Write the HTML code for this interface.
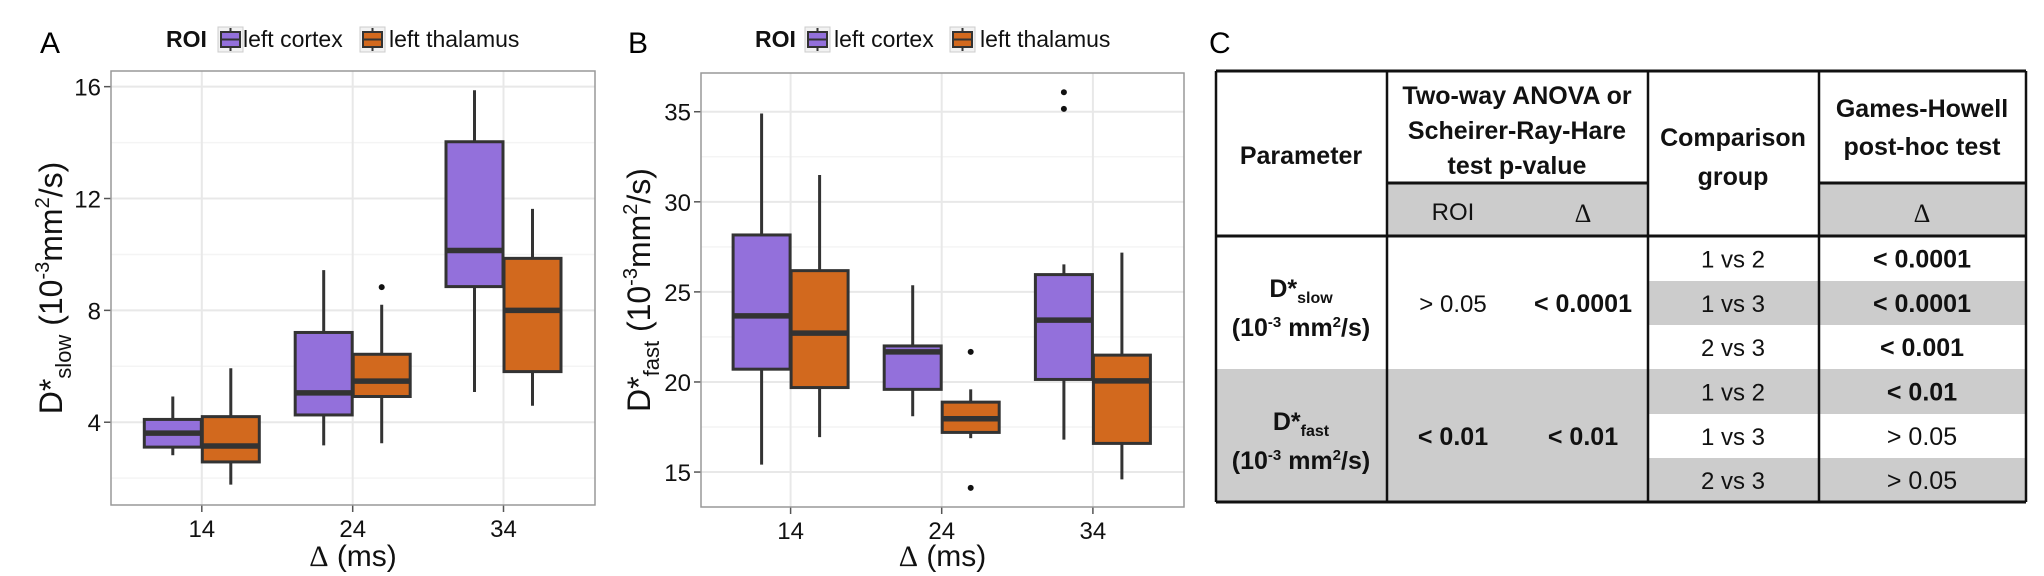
<!DOCTYPE html>
<html><head><meta charset="utf-8"><style>
body{margin:0;background:#fff;}
svg{display:block;font-family:"Liberation Sans",sans-serif;}
</style></head><body>
<svg id="fig" width="2044" height="576" viewBox="0 0 2044 576">
<text x="40" y="53" font-size="30">A</text>
<text x="628" y="53" font-size="30">B</text>
<text x="1209" y="53" font-size="30">C</text>
<g id="pa"></g>
<g id="pb"></g>
<g id="tbl"></g>
</svg>
<script>
const categories = [14, 24, 34];
const groups = ["left cortex", "left thalamus"];
// [lower, Q1, median, Q3, upper] per category
const slowCortex = [[2.82,3.11,3.61,4.10,4.92],[3.17,4.26,5.05,7.21,9.44],[5.08,8.85,10.14,14.03,15.87]];
const slowThal = [[1.77,2.58,3.15,4.20,5.93],[3.25,4.92,5.47,6.43,8.20],[4.59,5.81,8.00,9.86,11.63]];
const slowOutCortex = [[],[],[]];
const slowOutThal = [[],[8.83],[]];
const fastCortex = [[15.41,20.71,23.67,28.16,34.9],[18.1,19.59,21.67,22.0,25.37],[16.8,20.14,23.43,25.96,26.53]];
const fastThal = [[16.94,19.69,22.71,26.18,31.49],[16.88,17.2,17.96,18.88,19.59],[14.59,16.59,20.06,21.49,27.18]];
const fastOutCortex = [[],[],[36.08,35.16]];
const fastOutThal = [[],[21.67,14.12],[]];
const slowTicks = [4, 8, 12, 16];
const slowMinor = [2, 6, 10, 14];
const fastTicks = [15, 20, 25, 30, 35];
const fastMinor = [17.5, 22.5, 27.5, 32.5];

const NS = "http://www.w3.org/2000/svg";
const COLORS = ["#9370DB", "#D2691E"];
function mk(parent, tag, attrs, txt){
  const e = document.createElementNS(NS, tag);
  for (const k in attrs) e.setAttribute(k, attrs[k]);
  if (txt !== undefined) e.textContent = txt;
  parent.appendChild(e);
  return e;
}
function panel(g, cfg){
  const {L,R,T,B,vmin,vmax,xs,ticks,minor,data,outs,ysub,legX} = cfg;
  const y = v => B - (v - vmin) / (vmax - vmin) * (B - T);
  const x = i => xs[i];
  mk(g,"rect",{x:L,y:T,width:R-L,height:B-T,fill:"#fff"});
  minor.forEach(v=>{const l=mk(g,"line",{x1:L,x2:R,y1:y(v),y2:y(v),stroke:"#f4f4f4","stroke-width":1.5});
     });
  ticks.forEach(v=>{const l=mk(g,"line",{x1:L,x2:R,y1:y(v),y2:y(v),stroke:"#e8e8e8","stroke-width":2});
     
    mk(g,"line",{x1:L-7,x2:L,y1:y(v),y2:y(v),stroke:"#555","stroke-width":1.5});
    const t=mk(g,"text",{x:L-10,y:y(v)+9,"font-size":24,"text-anchor":"end",fill:"#111"},String(v));
     });
  categories.forEach((c,i)=>{
    const l=mk(g,"line",{x1:x(i),x2:x(i),y1:T,y2:B,stroke:"#e8e8e8","stroke-width":2});
     
    mk(g,"line",{x1:x(i),x2:x(i),y1:B,y2:B+7,stroke:"#555","stroke-width":1.5});
    const t=mk(g,"text",{x:x(i),y:B+32,"font-size":24,"text-anchor":"middle",fill:"#111"},String(c));
     
  });
  const hw=28.5, off=29;
  data.forEach((ser,si)=>{
    ser.forEach((s,i)=>{
      const cx = x(i) + (si===0?-off:off);
      const bg = mk(g,"g",{});
      
      
      mk(bg,"line",{x1:cx,x2:cx,y1:y(s[4]),y2:y(s[0]),stroke:"#333","stroke-width":3});
      mk(bg,"rect",{x:cx-hw,y:y(s[3]),width:2*hw,height:y(s[1])-y(s[3]),fill:COLORS[si],stroke:"#333","stroke-width":3});
      mk(bg,"line",{x1:cx-hw,x2:cx+hw,y1:y(s[2]),y2:y(s[2]),stroke:"#333","stroke-width":5.5});
      outs[si][i].forEach(v=>{const o=mk(bg,"circle",{cx:cx,cy:y(v),r:3,fill:"#111"});
         });
    });
  });
  mk(g,"rect",{x:L,y:T,width:R-L,height:B-T,fill:"none",stroke:"#999","stroke-width":1.5});
  const xt=mk(g,"text",{x:(L+R)/2,y:566,"font-size":30,"text-anchor":"middle",fill:"#111"});
   
  xt.innerHTML='<tspan font-family="Liberation Serif">Δ</tspan>  (ms)';
  const cy=(T+B)/2, tx=cfg.ytx;
  const yt=mk(g,"text",{x:0,y:0,"font-size":32,"text-anchor":"middle",fill:"#111",transform:`translate(${tx},${cy}) rotate(-90)`});
   
  yt.innerHTML=`D*<tspan font-size="22" dy="9">${ysub}</tspan><tspan dy="-9"> (10</tspan><tspan font-size="20" dy="-13">-3</tspan><tspan dy="13">mm</tspan><tspan font-size="20" dy="-13">2</tspan><tspan dy="13">/s)</tspan>`;
  const lg=mk(g,"g",{});  
  mk(lg,"text",{x:legX[0],y:47,"font-size":23,"font-weight":"bold",fill:"#111"},"ROI");
  groups.forEach((nm,k)=>{
    const kx=legX[1+k*2];
    mk(lg,"rect",{x:kx-2,y:27,width:25,height:25,fill:"#f2f2f2",stroke:"#ccc"});
    mk(lg,"line",{x1:kx+10.5,x2:kx+10.5,y1:28,y2:51,stroke:"#333","stroke-width":2});
    mk(lg,"rect",{x:kx+1,y:32,width:19,height:15,fill:COLORS[k],stroke:"#333","stroke-width":2});
    mk(lg,"line",{x1:kx+1,x2:kx+20,y1:39.5,y2:39.5,stroke:"#333","stroke-width":2});
    const t=mk(lg,"text",{x:legX[2+k*2],y:47,"font-size":23,fill:"#111"},nm);
     
  });
}
panel(document.getElementById("pa"),{L:111,R:595,T:71,B:505,vmin:1.04,vmax:16.56,xs:[201.8,352.7,503.5],
  ticks:slowTicks,minor:slowMinor,data:[slowCortex,slowThal],outs:[slowOutCortex,slowOutThal],ysub:"slow",ytx:62,
  legX:[166,220,243,362,389]});
panel(document.getElementById("pb"),{L:701,R:1184,T:73,B:507,vmin:13.06,vmax:37.15,xs:[790.6,941.7,1092.9],
  ticks:fastTicks,minor:fastMinor,data:[fastCortex,fastThal],outs:[fastOutCortex,fastOutThal],ysub:"fast",ytx:650,
  legX:[755,807,834,952,980]});

const tg=document.getElementById("tbl");
const colX=[1216,1387,1648,1819,2026];
const rowY=[236,281,325,369,414,458,502];
const grays=[[1387,183,261,53],[1819,183,207,53],[1648,281,378,44],[1216,369,432,133],[1648,369,378,45],[1648,458,378,44]];
grays.forEach(r=>{mk(tg,"rect",{x:r[0],y:r[1],width:r[2],height:r[3],fill:"#cccccc"});});
function ln(x1,y1,x2,y2,w){mk(tg,"line",{x1,y1,x2,y2,stroke:"#111","stroke-width":w||2});}
ln(1216,71,2026,71,3); ln(1216,502,2026,502,3); ln(1216,236,2026,236,3);
ln(1387,183,1648,183,3); ln(1819,183,2026,183,3);
colX.forEach(cx=>ln(cx,71,cx,502,2.5));
function tx(x,y,s,bold,size,name){const t=mk(tg,"text",{x,y,"font-size":size||24,"text-anchor":"middle","font-weight":bold?"bold":"normal",fill:"#111"});
  t.innerHTML=s;   return t;}
tx(1301,164,"Parameter",1,25,"header-parameter");
tx(1517,104,"Two-way ANOVA or",1,25,"header-anova");
tx(1517,139,"Scheirer-Ray-Hare",1,25,"header-anova");
tx(1517,174,"test p-value",1,25,"header-anova");
tx(1733,146,"Comparison",1,25,"header-comparison");
tx(1733,185,"group",1,25,"header-comparison");
tx(1922,117,"Games-Howell",1,25,"header-games-howell");
tx(1922,155,"post-hoc test",1,25,"header-games-howell");
tx(1453,220,"ROI",0,24,"subheader-roi");
tx(1583,222,'<tspan font-family="Liberation Serif">Δ</tspan>',0,26,"subheader-delta");
tx(1922,222,'<tspan font-family="Liberation Serif">Δ</tspan>',0,26,"subheader-delta");
tx(1301,297,'D*<tspan font-size="16" dy="6">slow</tspan>',1,25,"param-dslow");
tx(1301,336,'(10<tspan font-size="15" dy="-9">-3</tspan><tspan dy="9"> mm</tspan><tspan font-size="15" dy="-9">2</tspan><tspan dy="9">/s)</tspan>',1,25,"param-dslow-unit");
tx(1301,430,'D*<tspan font-size="16" dy="6">fast</tspan>',1,25,"param-dfast");
tx(1301,469,'(10<tspan font-size="15" dy="-9">-3</tspan><tspan dy="9"> mm</tspan><tspan font-size="15" dy="-9">2</tspan><tspan dy="9">/s)</tspan>',1,25,"param-dfast-unit");
tx(1453,312,"&gt; 0.05",0,24); tx(1583,312,"&lt; 0.0001",1,25);
tx(1453,445,"&lt; 0.01",1,25); tx(1583,445,"&lt; 0.01",1,25);
const comps=["1 vs 2","1 vs 3","2 vs 3","1 vs 2","1 vs 3","2 vs 3"];
const gh=["&lt; 0.0001","&lt; 0.0001","&lt; 0.001","&lt; 0.01","&gt; 0.05","&gt; 0.05"];
const ghBold=[1,1,1,1,0,0];
comps.forEach((c,i)=>{const cy=(rowY[i]+rowY[i+1])/2+9; tx(1733,cy,c,0,24,"comparison-group"); tx(1922,cy,gh[i],ghBold[i],25,"games-howell-p");});
</script>
</body></html>
